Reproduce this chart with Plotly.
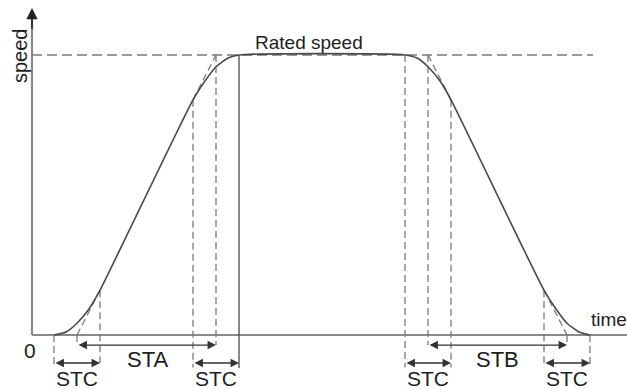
import plotly.graph_objects as go

# ---- data (time units, speed in % of rated) ----
RATED = 100
accel_t = [22, 34, 45, 57, 68, 161, 173, 184, 196, 207]
accel_v = [0, 1.1, 4.2, 9.3, 16, 84, 90.7, 95.8, 98.9, 100]
decel_t = [373, 385, 396, 408, 419, 512, 524, 535, 547, 558]
decel_v = [100, 98.9, 95.8, 90.7, 84, 16, 9.3, 4.2, 1.1, 0]

# interval boundaries
stc_intervals = [(22, 68), (161, 207), (373, 419), (512, 558)]
sta_interval = (45, 184)
stb_interval = (396, 535)
# linear extensions (dashed)
ext_lines = [((45, 0), (68, 16)), ((161, 84), (184, 100)),
             ((396, 100), (419, 84)), ((512, 16), (535, 0))]
# dashed vertical guides: (t, top speed, bottom)
guides = [(22, 0, -11.6), (68, 16, -11.6), (161, 84, -11.6), (184, 100, -3.6),
          (373, 100, -11.6), (396, 100, -3.6), (419, 84, -11.6),
          (512, 16, -11.6), (558, 0, -11.6), (45, 0, -3.6), (535, 0, -3.6)]
X_MAX = 595
Y_TOP = 116.8
ARROW_LVL_A = -3.6
ARROW_LVL_C = -10
LABEL_LVL_C = -15.4

LINE = "#4a4a4a"
DASH = "#7a7a7a"
AXIS = "#8a8a8a"
TXT = "#1e1e1e"
FONT = "Liberation Sans, Arial, sans-serif"

fig = go.Figure()

def line(xs, ys, color, width=1.4, dash=None):
    fig.add_trace(go.Scatter(x=xs, y=ys, mode="lines", hoverinfo="skip",
                             line=dict(color=color, width=width, dash=dash),
                             showlegend=False))

# axes
line([0, X_MAX], [0, 0], AXIS, 2.2)
line([0, 0], [0, Y_TOP - 3], AXIS, 2.2)

# rated speed dashed
line([0, decel_t[-1] + 3], [RATED, RATED], DASH, 1.6, "10px,5px")

# guides
for t, top, bot in guides:
    line([t, t], [top, bot], DASH, 1.3, "7px,4px")
for (a, b) in ext_lines:
    line([a[0], b[0]], [a[1], b[1]], DASH, 1.3, "7px,4px")

# speed curve
line(accel_t + decel_t, accel_v + decel_v, LINE, 1.6)
fig.data[-1].line.shape = "spline"
fig.data[-1].line.smoothing = 0.6

# solid vertical at end of accel
line([accel_t[-1], accel_t[-1]], [RATED, -11.8], LINE, 1.3)

annotations = []

def arrow(x0, x1, y):
    annotations.append(dict(x=x1, y=y, ax=x0, ay=y, xref="x", yref="y",
                            axref="x", ayref="y", text="", showarrow=True,
                            arrowhead=2, startarrowhead=2, arrowside="end+start",
                            arrowsize=1.3, startarrowsize=1.3, arrowwidth=1.3,
                            arrowcolor="#333333", standoff=0, startstandoff=0))

def label(x, y, s, size, xanchor="center", angle=0):
    annotations.append(dict(x=x, y=y, xref="x", yref="y", text=s, showarrow=False,
                            xanchor=xanchor, yanchor="middle", textangle=angle,
                            font=dict(family=FONT, size=size, color=TXT)))

for a, b in stc_intervals:
    arrow(a, b, ARROW_LVL_C)
    label((a + b) / 2, LABEL_LVL_C, "STC", 21)
arrow(*sta_interval, ARROW_LVL_A)
arrow(*stb_interval, ARROW_LVL_A)
label(115, -8.9, "STA", 22)
label(465, -8.9, "STB", 22)

# y axis arrowhead
annotations.append(dict(x=0, y=Y_TOP, ax=0, ay=Y_TOP - 8, xref="x", yref="y",
                        axref="x", ayref="y", text="", showarrow=True, arrowhead=2,
                        arrowsize=1.4, arrowwidth=1.6, arrowcolor="#222222", standoff=0))

label(-2.5, -5.4, "0", 21)
label(221, 104.3, "Rated speed", 19, xanchor="left")
label(-12, 99.6, "speed", 20, angle=-90)
label(557, 5.6, "time", 19, xanchor="left")

fig.update_layout(
    width=627, height=389, margin=dict(l=0, r=0, t=0, b=0),
    plot_bgcolor="white", paper_bgcolor="white",
    xaxis=dict(range=[-32, 595], visible=False, fixedrange=True),
    yaxis=dict(range=[(335 - 389) / 2.8, 335 / 2.8], visible=False, fixedrange=True),
    annotations=annotations,
)
fig.write_html("out.html", config={"displayModeBar": False},
               post_script="document.body.style.margin='0';document.body.style.overflow='hidden';")
